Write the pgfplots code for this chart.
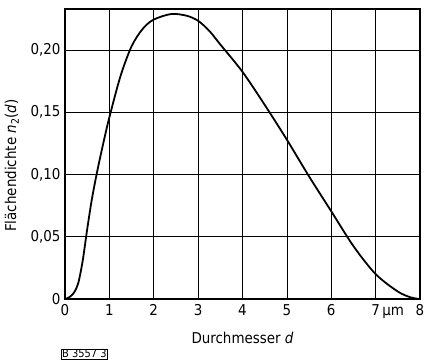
\documentclass[border=0pt]{standalone}
\usepackage{fontspec}
\setmainfont{DejaVu Sans Condensed}
\usepackage{pgfplots}
\pgfplotsset{compat=1.18}
\begin{document}
\begin{tikzpicture}
\useasboundingbox (-65bp,-65bp) rectangle (359bp,290bp+9bp);
\begin{axis}[
  at={(0,0)}, anchor=south west,
  scale only axis, width=355bp, height=290bp,
  xmin=0, xmax=8, ymin=0, ymax=0.233,
  xtick={0,1,2,3,4,5,6,7,8},
  xticklabels={0,1,2,3,4,5,6,7\rlap{\,µm},8},
  ytick={0,0.05,0.10,0.15,0.20},
  yticklabels={0,{0,05},{0,10},{0,15},{0,20}},
  major tick length=0pt,
  grid=major,
  major grid style={black, line width=0.6pt},
  axis line style={black, line width=1.2pt},
  tick label style={font=\fontsize{15}{16}\selectfont},
  xticklabel style={yshift=-2bp},
  yticklabel style={xshift=-1bp},
  xlabel={Durchmesser {\itshape d}},
  ylabel={Flächendichte {\itshape n}\textsubscript{2}({\itshape d})},
  every axis x label/.style={at={(axis description cs:0.5,-0.135)},anchor=center,font=\fontsize{15}{16}\selectfont},
  every axis y label/.style={at={(axis description cs:-0.15,0.46)},rotate=90,anchor=center,font=\fontsize{15}{16}\selectfont},
  clip=false,
]
\addplot[black, line width=1.8pt, smooth] coordinates {
 (0,0) (0.1,0.0015) (0.2,0.005) (0.3,0.013) (0.4,0.031) (0.5,0.056) (0.6,0.079) (0.7,0.098)
 (0.8,0.115) (0.9,0.131) (1.0,0.146) (1.25,0.179) (1.5,0.203) (1.75,0.217) (2.0,0.2245)
 (2.4,0.229) (2.75,0.2275) (3.0,0.2235) (3.25,0.2155) (3.5,0.2045) (4.0,0.1825) (4.5,0.156)
 (5.0,0.128) (5.5,0.0985) (6.0,0.0705) (6.5,0.0425) (7.0,0.020)
 (7.5,0.006) (7.8,0.0012) (8,0)
};
\end{axis}
\node[draw, inner sep=1pt, font=\fontsize{11}{12}\selectfont, anchor=west] at (-4bp,-55bp) {B 3557 3};
\end{tikzpicture}
\end{document}
